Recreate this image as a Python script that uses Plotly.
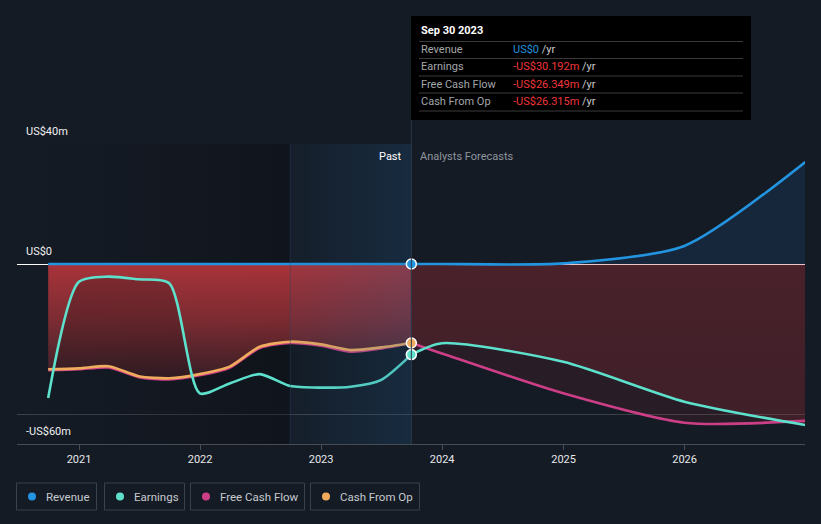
import plotly.graph_objects as go

# ---------------- data (US$ m, trailing twelve months / analyst forecasts) ----------------
past_dates = ["2020-09-30", "2020-12-31", "2021-03-31", "2021-06-30", "2021-09-30",
              "2021-12-31", "2022-03-31", "2022-06-30", "2022-09-30", "2022-12-31",
              "2023-03-31", "2023-06-30", "2023-09-30"]
forecast_dates = ["2023-09-30", "2023-12-31", "2024-12-31", "2025-12-31", "2026-12-31"]

revenue_past = [0, 0, 0, 0, 0, 0, 0, 0, 0, 0, 0, 0, 0]
revenue_forecast = [0, 0, 0.2, 6.0, 34.0]

earnings_past = [-44.7, -6.0, -4.2, -5.1, -6.4, -43.1, -39.8, -36.7, -40.7, -41.2, -40.9, -38.7, -30.192]
earnings_forecast = [-30.192, -26.4, -32.6, -45.9, -53.7]

fcf_past = [-35.4, -35.1, -34.5, -37.7, -38.5, -37.1, -34.6, -28.0, -26.3, -27.2, -29.2, -28.2, -26.349]
fcf_forecast = [-26.349, -29.8, -43.1, -52.9, -52.3]

cfo_past = [-35.1, -34.8, -34.1, -37.4, -38.1, -36.7, -34.2, -27.6, -25.9, -26.8, -28.7, -27.8, -26.315]

series_names = ["Revenue", "Earnings", "Free Cash Flow", "Cash From Op"]
series_colors = ["#2394df", "#5de1cc", "#cc3f86", "#efab5e"]

y_labels = ["US$40m", "US$0", "-US$60m"]
y_label_vals = [40, 0, -60]

tooltip_date = "Sep 30 2023"
tooltip_values = ["US$0", "-US$30.192m", "-US$26.349m", "-US$26.315m"]

x_range = ["2020-06-28", "2026-12-30"]
y_range = [-60, 40]
highlight_start = "2022-09-30"
now_date = "2023-09-30"

# ---------------- layout helpers ----------------
W, H = 821, 524
ML, MR, MT, MB = 17, 16, 144, 80
PW, PH = W - ML - MR, H - MT - MB
BG = "#151b25"
FONT = "Roboto"


def px(x):
    return (x - ML) / PW


def py(y):
    return (H - MB - y) / PH


fig = go.Figure()

# darker past region
fig.add_trace(go.Scatter(
    x=[x_range[0], highlight_start, highlight_start, x_range[0], x_range[0]],
    y=[y_range[0], y_range[0], y_range[1], y_range[1], y_range[0]],
    mode="lines", line=dict(width=0), fill="toself",
    fillgradient=dict(type="horizontal",
                      colorscale=[[0, "rgba(6,8,12,0.0)"], [1, "rgba(6,8,12,0.32)"]]),
    hoverinfo="skip", showlegend=False))

# past fill (cash from op to zero)
fig.add_trace(go.Scatter(
    x=past_dates, y=cfo_past, mode="lines", line=dict(width=0, shape="spline", smoothing=0.7),
    fill="tozeroy",
    fillgradient=dict(type="vertical", start=-38, stop=0,
                      colorscale=[[0, "rgba(172,52,58,0.25)"], [0.5, "rgba(172,52,58,0.68)"],
                                  [1, "rgba(172,52,58,0.97)"]]),
    hoverinfo="skip", showlegend=False))
# darken between earnings and cash from op
fig.add_trace(go.Scatter(
    x=past_dates, y=earnings_past, mode="lines", line=dict(width=0, shape="spline", smoothing=0.7),
    fill="tonexty", fillcolor="rgba(14,12,20,0.22)",
    hoverinfo="skip", showlegend=False))

# forecast fills
fig.add_trace(go.Scatter(
    x=forecast_dates, y=fcf_forecast, mode="lines", line=dict(width=0, shape="spline", smoothing=0.7),
    fill="tozeroy", fillcolor="rgba(200,45,55,0.11)", hoverinfo="skip", showlegend=False))
fig.add_trace(go.Scatter(
    x=forecast_dates, y=earnings_forecast, mode="lines", line=dict(width=0, shape="spline", smoothing=0.7),
    fill="tozeroy",
    fillgradient=dict(type="vertical", start=-55, stop=0,
                      colorscale=[[0, "rgba(200,45,55,0.14)"], [1, "rgba(205,50,62,0.2)"]]),
    hoverinfo="skip", showlegend=False))
fig.add_trace(go.Scatter(
    x=forecast_dates, y=revenue_forecast, mode="lines", line=dict(width=0, shape="spline", smoothing=0.7),
    fill="tozeroy", fillcolor="rgba(35,120,210,0.13)", hoverinfo="skip", showlegend=False))

# lines
def add_line(x, y, color):
    fig.add_trace(go.Scatter(x=x, y=y, mode="lines",
                             line=dict(color=color, width=2.6, shape="spline", smoothing=0.7),
                             hoverinfo="skip", showlegend=False))


add_line(past_dates, fcf_past, series_colors[2])
add_line(forecast_dates, fcf_forecast, series_colors[2])
add_line(past_dates, cfo_past, series_colors[3])
add_line(past_dates, earnings_past, series_colors[1])
add_line(forecast_dates, earnings_forecast, series_colors[1])
add_line(past_dates, revenue_past, series_colors[0])
add_line(forecast_dates, revenue_forecast, series_colors[0])

# last-twelve-months highlight overlay
fig.add_trace(go.Scatter(
    x=[highlight_start, now_date, now_date, highlight_start, highlight_start],
    y=[y_range[0], y_range[0], y_range[1], y_range[1], y_range[0]],
    mode="lines", line=dict(width=0), fill="toself",
    fillgradient=dict(type="horizontal",
                      colorscale=[[0, "rgba(30,95,145,0.05)"], [1, "rgba(30,95,145,0.24)"]]),
    hoverinfo="skip", showlegend=False))

# markers at the latest reported date
fig.add_trace(go.Scatter(
    x=[past_dates[-1], past_dates[-1], past_dates[-1]],
    y=[revenue_past[-1], earnings_past[-1], cfo_past[-1]],
    mode="markers",
    marker=dict(size=10, color=[series_colors[0], series_colors[1], series_colors[3]],
                line=dict(color="#ffffff", width=1.5)),
    hoverinfo="skip", showlegend=False))

shapes = []
annotations = []

# separators
shapes.append(dict(type="line", xref="x", yref="paper", x0=highlight_start, x1=highlight_start,
                   y0=0, y1=1, line=dict(color="rgba(40,70,95,0.45)", width=1), layer="above"))
shapes.append(dict(type="line", xref="x", yref="paper", x0=now_date, x1=now_date,
                   y0=0, y1=py(120), line=dict(color="#2b3949", width=1), layer="above"))

# y labels
for lab, v in zip(y_labels, y_label_vals):
    annotations.append(dict(text=lab, xref="paper", yref="y", x=px(24), y=v, xanchor="left",
                            yanchor="bottom", yshift=4, showarrow=False,
                            font=dict(family=FONT, size=11, color="#eef0f2")))

annotations.append(dict(text="Past", xref="x", yref="paper", x=now_date, y=py(156), xanchor="right",
                        yanchor="middle", xshift=-7, showarrow=False,
                        font=dict(family=FONT, size=11, color="#ffffff")))
annotations.append(dict(text="Analysts Forecasts", xref="x", yref="paper", x=now_date, y=py(156),
                        xanchor="left", yanchor="middle", xshift=7, showarrow=False,
                        font=dict(family=FONT, size=11, color="#8f959e")))

# tooltip box
shapes.append(dict(type="rect", xref="paper", yref="paper", x0=px(411), x1=px(751), y0=py(120), y1=py(16),
                   fillcolor="#000000", line=dict(width=0), layer="above"))
for sy in [41.5, 58.5, 76, 93, 111]:
    shapes.append(dict(type="line", xref="paper", yref="paper", x0=px(419), x1=px(743), y0=py(sy), y1=py(sy),
                       line=dict(color="#3a3a3c", width=1), layer="above"))
annotations.append(dict(text="<b>" + tooltip_date + "</b>", xref="paper", yref="paper", x=px(419), y=py(31),
                        xanchor="left", yanchor="middle", showarrow=False,
                        font=dict(family=FONT, size=11, color="#ffffff")))
row_y = [49.5, 66.5, 84, 101]
for i, (name, val) in enumerate(zip(series_names, tooltip_values)):
    vcol = "#2394df" if i == 0 else "#f0353a"
    annotations.append(dict(text=name, xref="paper", yref="paper", x=px(419), y=py(row_y[i]),
                            xanchor="left", yanchor="middle", showarrow=False,
                            font=dict(family=FONT, size=11, color="#a3a6aa")))
    annotations.append(dict(text="<span style='color:%s'>%s</span> /yr" % (vcol, val),
                            xref="paper", yref="paper", x=px(511), y=py(row_y[i]),
                            xanchor="left", yanchor="middle", showarrow=False,
                            font=dict(family=FONT, size=11, color="#c9cbce")))

# legend
boxes = [(16, 97), (104, 185), (190, 305), (310, 420)]
for (x0, x1), name, col in zip(boxes, series_names, series_colors):
    shapes.append(dict(type="rect", xref="paper", yref="paper", x0=px(x0 + 0.5), x1=px(x1 - 0.5),
                       y0=py(510), y1=py(483), line=dict(color="#3b404a", width=1),
                       fillcolor="rgba(0,0,0,0)"))
    cx = x0 + 16
    shapes.append(dict(type="circle", xref="paper", yref="paper", x0=px(cx - 4), x1=px(cx + 4),
                       y0=py(500.5), y1=py(492.5), fillcolor=col, line=dict(width=0)))
    annotations.append(dict(text=name, xref="paper", yref="paper", x=px(x0 + 28), y=py(496.5),
                            xanchor="left", yanchor="middle", showarrow=False,
                            font=dict(family=FONT, size=11.5, color="#c6cace")))

fig.update_layout(
    width=W, height=H, autosize=False,
    margin=dict(l=ML, r=MR, t=MT, b=MB, pad=0),
    paper_bgcolor=BG, plot_bgcolor=BG,
    showlegend=False, hovermode=False,
    font=dict(family=FONT, color="#e6e8ea"),
    xaxis=dict(type="date", range=x_range, showgrid=False, zeroline=False,
               showline=True, linecolor="#474c55", linewidth=1,
               ticks="outside", ticklen=5, tickcolor="#474c55",
               tick0="2021-01-01", dtick="M12", tickformat="%Y",
               tickfont=dict(family=FONT, size=11, color="#e6e8ea"), fixedrange=True),
    yaxis=dict(range=y_range, showticklabels=False, tickvals=[-50, 40],
               showgrid=True, gridcolor="#3b4049", gridwidth=1,
               zeroline=True, zerolinecolor="#ffffff", zerolinewidth=1,
               showline=False, fixedrange=True),
    shapes=shapes, annotations=annotations,
)

fig.write_html("out.html", config={"displayModeBar": False},
               post_script="document.body.style.margin='0';document.body.style.overflow='hidden';")
